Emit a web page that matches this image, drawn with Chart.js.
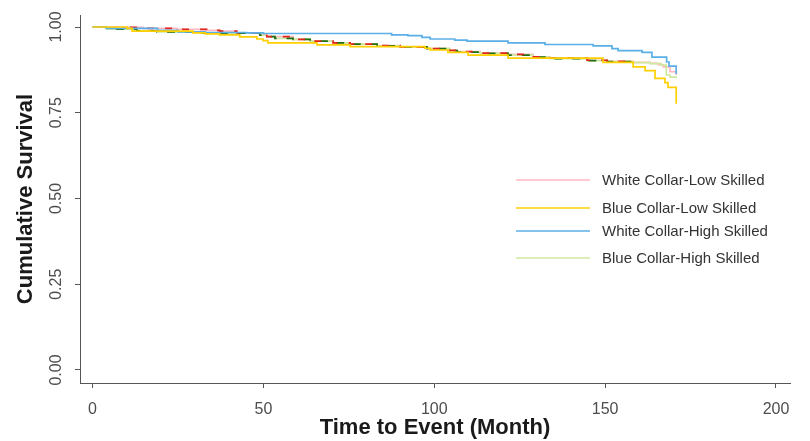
<!DOCTYPE html>
<html><head><meta charset="utf-8">
<script src="https://cdn.jsdelivr.net/npm/chart.js@4/dist/chart.umd.min.js"></script>
<style>html,body{margin:0;padding:0;background:#fff;}</style>
</head><body>
<canvas id="c" width="810" height="441" style="display:block;width:810px;height:441px"></canvas>
<script>
// ---- data ----
const seriesLabels = ["White Collar-Low Skilled", "Blue Collar-Low Skilled", "White Collar-High Skilled", "Blue Collar-High Skilled"];
const xTicks = [0, 50, 100, 150, 200];
const yTicks = [0, 0.25, 0.5, 0.75, 1];

const wcLowTime = [0, 11.0, 14.8, 24.7, 33.4, 37.2, 42.2, 48.9, 51.0, 58.7, 63.7, 70.4, 75.4, 83.3, 90.0, 97.9, 104.6, 106.7, 113.4, 121.6, 128.9, 133.9, 144.7, 150.6, 158.2, 163.2, 165.5, 167.0, 169.0, 170.8];
const wcLowSurv = [1.000, 0.999, 0.996, 0.993, 0.990, 0.988, 0.983, 0.978, 0.972, 0.964, 0.959, 0.954, 0.950, 0.946, 0.942, 0.937, 0.932, 0.928, 0.924, 0.920, 0.913, 0.909, 0.903, 0.900, 0.897, 0.894, 0.890, 0.884, 0.870, 0.860];

const bcLowTime = [0, 10.1, 11.6, 29.4, 33.0, 37.2, 43.1, 48.1, 49.9, 51.3, 65.7, 75.4, 97.3, 98.8, 104.0, 109.9, 121.6, 149.4, 158.2, 161.7, 164.6, 167.5, 168.4, 170.8];
const bcLowSurv = [1.000, 0.996, 0.988, 0.983, 0.980, 0.977, 0.971, 0.965, 0.960, 0.954, 0.948, 0.943, 0.938, 0.933, 0.926, 0.918, 0.909, 0.897, 0.884, 0.873, 0.850, 0.838, 0.824, 0.776];

const wcHighTime = [0, 4.0, 19.0, 25.0, 33.0, 45.0, 50.0, 87.5, 92.3, 96.4, 98.8, 106.0, 109.6, 121.6, 132.4, 146.5, 152.0, 153.8, 160.8, 163.7, 168.0, 168.7, 170.8];
const wcHighSurv = [1.000, 0.996, 0.990, 0.986, 0.984, 0.983, 0.981, 0.977, 0.975, 0.970, 0.965, 0.962, 0.959, 0.954, 0.949, 0.945, 0.937, 0.931, 0.926, 0.912, 0.898, 0.886, 0.863];

const bcHighTime = [0, 4.2, 13.0, 18.9, 31.5, 49.0, 51.0, 53.4, 58.7, 63.7, 70.4, 75.4, 83.3, 90.0, 97.9, 104.6, 106.7, 113.4, 121.6, 128.9, 133.9, 144.7, 150.6, 158.2, 163.2, 166.4, 167.9, 169.0, 170.8];
const bcHighSurv = [1.000, 0.994, 0.989, 0.986, 0.982, 0.976, 0.972, 0.967, 0.964, 0.959, 0.954, 0.950, 0.945, 0.942, 0.937, 0.931, 0.927, 0.923, 0.918, 0.912, 0.908, 0.902, 0.899, 0.896, 0.893, 0.889, 0.860, 0.854, 0.851];

// ---- helpers ----
function pts(t, s) { return t.map((v, i) => ({ x: v, y: s[i] })); }
function ptsRange(t, s, lo, hi) { return pts(t, s).filter(p => p.x >= lo && p.x <= hi); }

const FONT = "'Liberation Sans', Arial, sans-serif";
const legendRowY = [180, 208, 231, 258];

const datasets = [
  { label: seriesLabels[1], data: pts(bcLowTime, bcLowSurv), borderColor: '#FFD000', order: 0, legendIdx: 1 },
  { label: seriesLabels[2], data: pts(wcHighTime, wcHighSurv), borderColor: '#5AAFE6', order: 1, legendIdx: 2 },
  { label: 'wcLowDense', data: ptsRange(wcLowTime, wcLowSurv, 8, 160), borderColor: '#E0261E', order: 2, borderDash: [7, 11], borderDashOffset: 0 },
  { label: 'bcHighDense', data: ptsRange(bcHighTime, bcHighSurv, 3, 160), borderColor: '#1F6E12', order: 3, borderDash: [8, 10], borderDashOffset: 9 },
  { label: seriesLabels[3], data: pts(bcHighTime, bcHighSurv), borderColor: '#CFE8A0', order: 4, legendIdx: 3 },
  { label: seriesLabels[0], data: pts(wcLowTime, wcLowSurv), borderColor: '#FFB8C2', order: 5, legendIdx: 0 }
].map(d => Object.assign({ stepped: true, borderWidth: 1.7, pointRadius: 0, fill: false, backgroundColor: d.borderColor }, d));

const legendPlugin = {
  id: 'inlegend',
  afterDraw(chart) {
    const ctx = chart.ctx;
    ctx.save();
    ctx.font = "15px " + FONT;
    ctx.textBaseline = 'middle';
    ctx.textAlign = 'left';
    chart.data.datasets.forEach(ds => {
      if (ds.legendIdx === undefined) return;
      const y = legendRowY[ds.legendIdx];
      ctx.strokeStyle = ds.borderColor;
      ctx.lineWidth = 1.5;
      ctx.beginPath(); ctx.moveTo(516, y); ctx.lineTo(590, y); ctx.stroke();
      ctx.fillStyle = '#333333';
      ctx.fillText(ds.label, 602, y + 1);
    });
    ctx.restore();
  }
};

new Chart(document.getElementById('c'), {
  type: 'line',
  data: { datasets },
  plugins: [legendPlugin],
  options: {
    responsive: false,
    animation: false,
    layout: { padding: { top: 15, right: 20, left: 0, bottom: 0 } },
    plugins: { legend: { display: false }, tooltip: { enabled: false } },
    scales: {
      x: {
        type: 'linear', min: -3.66, max: 204.1,
        afterBuildTicks: s => { s.ticks = xTicks.map(v => ({ value: v })); },
        afterFit: s => { s.height = 58; },
        grid: { display: true, drawOnChartArea: false, drawTicks: true, tickLength: 5, color: '#555555', lineWidth: 1 },
        border: { display: true, color: '#555555', width: 1 },
        ticks: { font: { family: FONT, size: 16 }, color: '#4d4d4d', padding: 12, maxRotation: 0, autoSkip: false, callback: v => String(v) },
        title: { display: true, text: 'Time to Event (Month)', font: { family: FONT, size: 22, weight: 'bold' }, color: '#1a1a1a', padding: { top: 0, bottom: 0 } }
      },
      y: {
        type: 'linear', min: -0.038, max: 1.035,
        afterBuildTicks: s => { s.ticks = yTicks.map(v => ({ value: v })); },
        afterFit: s => { s.width = 80; },
        grid: { display: true, drawOnChartArea: false, drawTicks: true, tickLength: 5, color: '#555555', lineWidth: 1 },
        border: { display: true, color: '#555555', width: 1 },
        ticks: { font: { family: FONT, size: 16 }, color: '#4d4d4d', padding: 3, minRotation: 90, maxRotation: 90, crossAlign: 'center', autoSkip: false, callback: v => Number(v).toFixed(2) },
        title: { display: true, text: 'Cumulative Survival', font: { family: FONT, size: 22, weight: 'bold' }, color: '#1a1a1a', padding: { top: 13, bottom: 0 } }
      }
    }
  }
});
</script>
</body></html>
